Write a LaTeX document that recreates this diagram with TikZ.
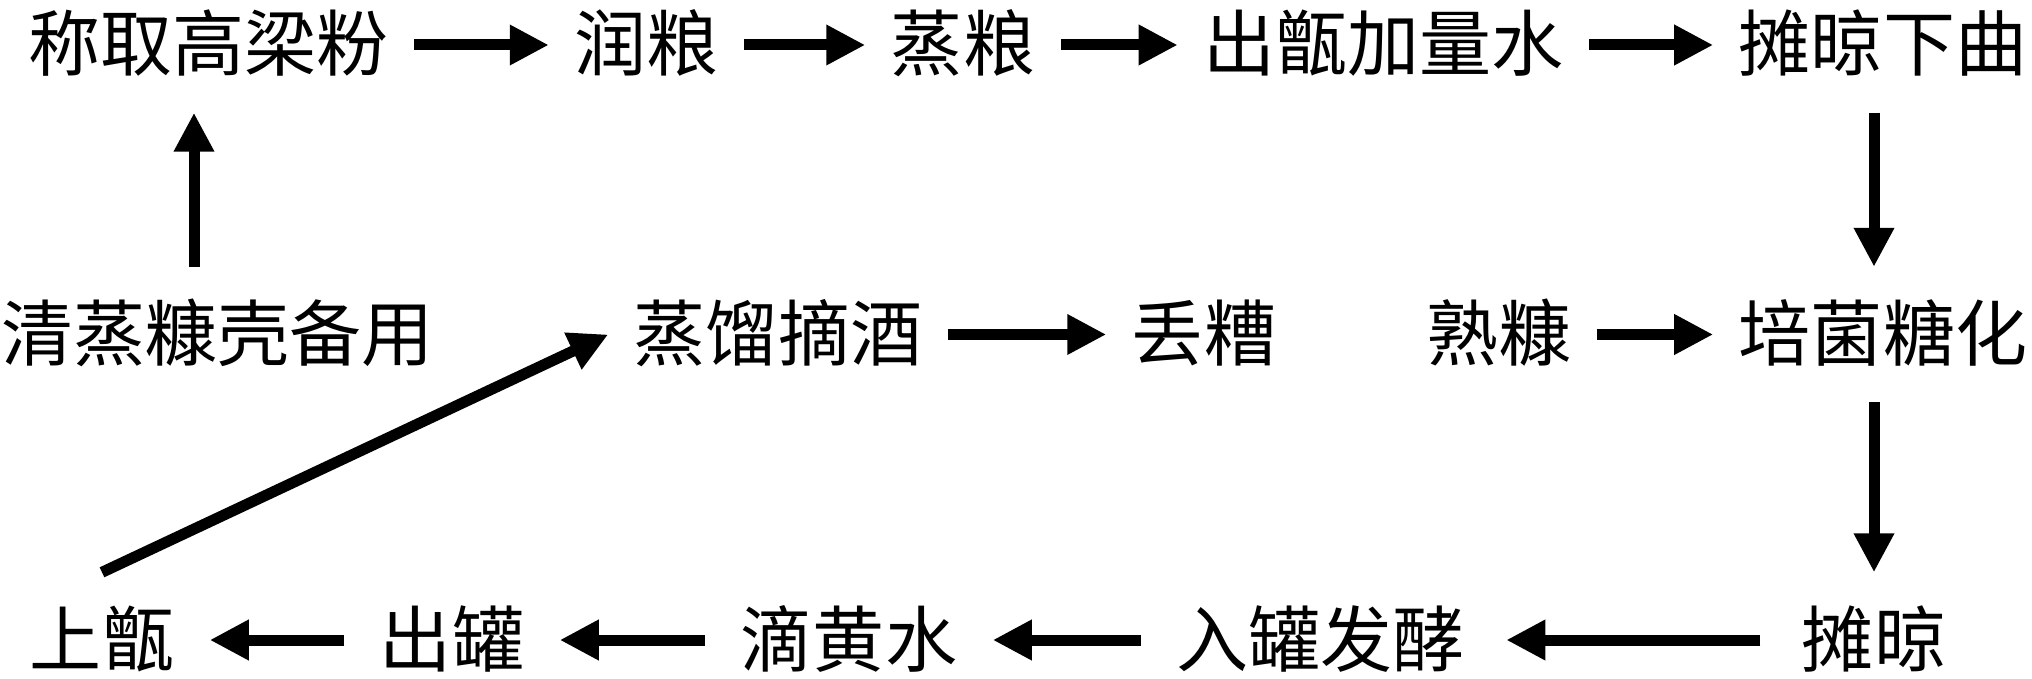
\documentclass[tikz,border=0pt]{standalone}
\usepackage{fontspec}
\newfontfamily\cjk{Noto Sans CJK SC}
\usepackage{tikz}
\usetikzlibrary{arrows.meta}

\begin{document}
\begin{tikzpicture}[%
    gongxu/.style={font=\cjk\fontsize{20.5pt}{24pt}\selectfont,
                   inner xsep=0.25cm, inner ysep=0.33cm,
                   text height=0.6cm, text depth=0.08cm},
    liu/.style={line width=0.11cm, -{Triangle[length=0.39cm,width=0.38cm]}},
    kuan/.style={shorten <=0.1cm, shorten >=0.1cm}
]
    \useasboundingbox (0,0) rectangle (20.32,6.78);

    % first row
    \node[gongxu] (chengqu)  at (2.085,6.33) {称取高梁粉};
    \node[gongxu] (runliang) at (6.465,6.33) {润粮};
    \node[gongxu] (zhengl)   at (9.63,6.33)  {蒸粮};
    \node[gongxu] (chuzeng)  at (13.835,6.33) {出甑加量水};
    \node[gongxu] (xiaqu)    at (18.83,6.33) {摊晾下曲};

    % second row
    \node[gongxu] (qingzheng) at (2.175,3.435) {清蒸糠壳备用};
    \node[gongxu] (zhengliu)  at (7.78,3.435)  {蒸馏摘酒};
    \node[gongxu] (diuzao)    at (12.04,3.435) {丢糟};
    \node[gongxu] (shukang)   at (14.99,3.435) {熟糠};
    \node[gongxu] (peijun)    at (18.83,3.435) {培菌糖化};

    % third row
    \node[gongxu] (shangzeng) at (1.02,0.38)  {上甑};
    \node[gongxu] (chuguan)   at (4.52,0.38)  {出罐};
    \node[gongxu] (dihuang)   at (8.49,0.38)  {滴黄水};
    \node[gongxu] (ruguan)    at (13.205,0.38) {入罐发酵};
    \node[gongxu] (tanliang)  at (18.74,0.38) {摊晾};

    \path (chengqu)                   edge[liu]      (runliang)
          (runliang)                  edge[liu]      (zhengl)
          (zhengl)                    edge[liu]      (chuzeng)
          (chuzeng)                   edge[liu]      (xiaqu)
          (xiaqu.south -| tanliang)   edge[liu]      (peijun.north -| tanliang)
          (shukang)                   edge[liu]      (peijun)
          (peijun.south -| tanliang)  edge[liu]      (tanliang.north)
          (tanliang)                  edge[liu,kuan,shorten <=0.16cm,shorten >=0.16cm] (ruguan)
          (ruguan)                    edge[liu,kuan] (dihuang)
          (dihuang)                   edge[liu,kuan] (chuguan)
          (chuguan)                   edge[liu,kuan] (shangzeng)
          (shangzeng.north)           edge[liu]      (zhengliu.west)
          (zhengliu)                  edge[liu]      (diuzao)
          ([xshift=-0.235cm]qingzheng.north) edge[liu] ([xshift=-0.145cm]chengqu.south);
\end{tikzpicture}
\end{document}
